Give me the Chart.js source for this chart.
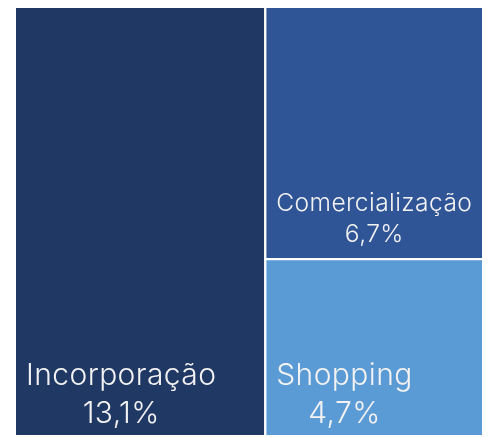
<!DOCTYPE html>
<html>
<head>
<meta charset="utf-8">
<script src="https://cdn.jsdelivr.net/npm/chart.js@4"></script>
<style>
  html, body { margin: 0; padding: 0; background: #fff; }
  #wrap { width: 488px; height: 437px; }
</style>
</head>
<body>
<div id="wrap"><canvas id="treemap"></canvas></div>
<script>
// dados do treemap
const categories = ['Incorporação', 'Comercialização', 'Shopping'];
const values = [13.1, 6.7, 4.7];
const valueLabels = ['13,1%', '6,7%', '4,7%'];
const colors = ['#203864', '#2F5597', '#5B9BD5'];

// layout: primeiro item ocupa uma coluna, os outros empilhados na segunda
function layout() {
  const total = values.reduce((a, b) => a + b, 0);
  const w0 = values[0] / total;
  const rest = values.slice(1).reduce((a, b) => a + b, 0);
  const rects = [{ x0: 0, x1: w0, y0: 0, y1: 1 }];
  let top = 1;
  for (let i = 1; i < values.length; i++) {
    const h = values[i] / rest;
    rects.push({ x0: w0, x1: 1, y0: top - h, y1: top });
    top -= h;
  }
  return rects;
}
const rects = layout();

const datasets = rects.map((r, i) => ({
  label: categories[i],
  data: [{ x: r.x0, y: r.y1 }, { x: r.x1, y: r.y1 }],
  fill: { value: r.y0 },
  backgroundColor: colors[i],
  borderWidth: 0,
  pointRadius: 0,
  pointHoverRadius: 0,
  tension: 0
}));

// bordas brancas + rótulos
const treeLabels = {
  id: 'treeLabels',
  afterDatasetsDraw(chart) {
    const ctx = chart.ctx;
    const xs = chart.scales.x, ys = chart.scales.y;
    ctx.save();
    rects.forEach((r, i) => {
      const left = xs.getPixelForValue(r.x0);
      const right = xs.getPixelForValue(r.x1);
      const top = ys.getPixelForValue(r.y1);
      const bottom = ys.getPixelForValue(r.y0);
      ctx.strokeStyle = '#fff';
      ctx.lineWidth = 2;
      ctx.strokeRect(left, top, right - left, bottom - top);

      const pad = 11;
      const base = 30;
      let size = base;
      ctx.letterSpacing = '0.4px';
      ctx.font = '300 ' + size + 'px Inter';
      const wName = ctx.measureText(categories[i]).width;
      const avail = right - left - pad - 12;
      if (wName > avail) {
        size = Math.round(size * avail / wName * 10) / 10;
        ctx.font = '300 ' + size + 'px Inter';
      }
      const nameW = ctx.measureText(categories[i]).width;
      const valBase = bottom - (13 + (base - size) * 0.7);
      const nameBase = valBase - size * 1.27;
      ctx.fillStyle = '#F2F2F2';
      ctx.textBaseline = 'alphabetic';
      ctx.textAlign = 'left';
      ctx.fillText(categories[i], left + pad, nameBase);
      ctx.textAlign = 'center';
      ctx.fillText(valueLabels[i], left + pad + nameW / 2, valBase);
    });
    ctx.restore();
  }
};

new Chart(document.getElementById('treemap'), {
  type: 'scatter',
  data: { datasets: datasets },
  options: {
    responsive: true,
    maintainAspectRatio: false,
    animation: false,
    showLine: true,
    layout: { padding: { left: 15, top: 7, right: 5, bottom: 1 } },
    scales: {
      x: { type: 'linear', min: 0, max: 1, display: false },
      y: { type: 'linear', min: 0, max: 1, display: false }
    },
    plugins: {
      legend: { display: false },
      tooltip: { enabled: false }
    }
  },
  plugins: [treeLabels]
});
</script>
</body>
</html>
